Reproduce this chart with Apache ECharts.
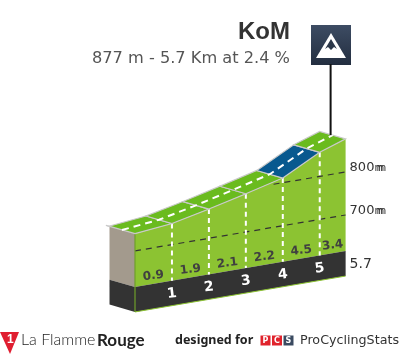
<!DOCTYPE html>
<html>
<head>
<meta charset="utf-8">
<style>html,body{margin:0;padding:0;background:#fff}#chart{width:405px;height:357px}</style>
<script src="https://cdn.jsdelivr.net/npm/echarts@6/dist/echarts.min.js"></script>
</head>
<body>
<div id="chart"></div>
<script>
// profile
var kmPoints = [0, 1, 2, 3, 4, 5, 5.7];
var altitudes = [740, 749, 768, 789, 811, 856, 877];
var gradients = ['0.9', '1.9', '2.1', '2.2', '4.5', '3.4'];
var roofColors = ['#6abb1e', '#6abb1e', '#6abb1e', '#6abb1e', '#08598f', '#6abb1e'];
var kmLabels = [1, 2, 3, 4, 5];
var altLines = [700, 800];
var altLineStart = [0, 3.75];
var altLabels = ['700', '800'];
var finishLabel = '5.7';

var kmMax = 5.7;
var tilt = 14.65;      // metres of climb per km that fakes the perspective
var baseAlt = 616;     // altitude of the top of the dark slab
var slabDrop = 58;     // slab height in metres
var roofDx = -26, roofDy = -7.5;

var chart = echarts.init(document.getElementById('chart'));

function altAt(km) {
    for (var i = 1; i < kmPoints.length; i++) {
        if (km <= kmPoints[i]) {
            var t = (km - kmPoints[i - 1]) / (kmPoints[i] - kmPoints[i - 1]);
            return altitudes[i - 1] + t * (altitudes[i] - altitudes[i - 1]);
        }
    }
    return altitudes[altitudes.length - 1];
}

function renderProfile(params, api) {
    function p(km, alt) { return api.coord([km, alt + km * tilt]); }
    function back(pt, f) { return [pt[0] + roofDx * f, pt[1] + roofDy * f]; }
    function poly(points, color, z) {
        return { type: 'polygon', z2: z || 1, shape: { points: points }, style: { fill: color } };
    }
    function line(a, b, color, width, dash, z) {
        return {
            type: 'line', z2: z || 2,
            shape: { x1: a[0], y1: a[1], x2: b[0], y2: b[1] },
            style: { stroke: color, lineWidth: width, lineDash: dash || null }
        };
    }
    function label(text, pos, font, color, rot, align) {
        return {
            type: 'text', z2: 6, x: pos[0], y: pos[1], rotation: rot || 0,
            style: { text: text, font: font, fill: color, align: align || 'center', verticalAlign: 'middle' }
        };
    }

    var kids = [];
    var n = kmPoints.length - 1;
    var rot = 0.12;

    // green front wall
    var wall = [];
    kmPoints.forEach(function (k, i) { wall.push(p(k, altitudes[i])); });
    wall.push(p(kmMax, baseAlt));
    wall.push(p(0, baseAlt));
    kids.push(poly(wall, '#8cc332'));

    // left side: rock and dark foot
    var a0 = p(0, altitudes[0]), b0 = p(0, baseAlt), c0 = p(0, baseAlt - slabDrop);
    var sideF = 0.98;
    kids.push(poly([a0, back(a0, sideF), back(b0, sideF), b0], '#a39a8d'));
    kids.push(poly([b0, back(b0, sideF), back(c0, sideF), c0], '#333333'));

    // dark slab
    kids.push(poly([p(0, baseAlt), p(kmMax, baseAlt), p(kmMax, baseAlt - slabDrop), p(0, baseAlt - slabDrop)], '#333333'));
    kids.push(line(p(0, baseAlt - slabDrop), p(kmMax, baseAlt - slabDrop), '#8cc332', 1, null, 3));
    kids.push(line(a0, c0, '#6f9f2a', 1.2, null, 3));

    // altitude lines, kept under the roof
    altLines.forEach(function (alt, i) {
        kids.push(line(p(altLineStart[i], alt), p(kmMax, alt), '#333333', 1.2, [6, 5], 2));
        var end = p(kmMax, alt);
        kids.push(label(altLabels[i], [end[0] + 4, end[1] - 4.5], '13px "DejaVu Sans"', '#333333', 0, 'left'));
        // the unit is printed twice, slightly shifted, in the original
        kids.push(label('m', [end[0] + 29, end[1] - 4], '10px "DejaVu Sans"', '#333333', 0, 'left'));
        kids.push(label('m', [end[0] + 31, end[1] - 4], '10px "DejaVu Sans"', '#333333', 0, 'left'));
    });

    // km lines
    kmLabels.forEach(function (k) {
        kids.push(line(p(k, altAt(k)), p(k, baseAlt), '#ffffff', 2, [5, 4], 3));
        var b = p(k, baseAlt);
        kids.push(label(String(k), [b[0], b[1] + 13], 'bold 14px "DejaVu Sans"', '#ffffff', rot));
    });

    // roof segments
    for (var i = 0; i < n; i++) {
        var f1 = p(kmPoints[i], altitudes[i]), f2 = p(kmPoints[i + 1], altitudes[i + 1]);
        kids.push({
            type: 'polygon', z2: 4,
            shape: { points: [f1, f2, back(f2, 1), back(f1, 1)] },
            style: { fill: roofColors[i], stroke: '#c9c9c9', lineWidth: 1.2 }
        });
        var m = p((kmPoints[i] + kmPoints[i + 1]) / 2, baseAlt);
        kids.push(label(gradients[i], [m[0], m[1] - 8], 'bold 12px "DejaVu Sans"', '#404040', rot));
    }
    kids.push(line(back(a0, 1), back(a0, 1.12), '#c9c9c9', 1.2, null, 4));

    // centre line of the road
    var road = [];
    kmPoints.forEach(function (k, i) { road.push(back(p(k, altitudes[i]), 0.5)); });
    kids.push({
        type: 'polyline', z2: 5, shape: { points: road },
        style: { stroke: '#ffffff', lineWidth: 2, lineDash: [7, 5], fill: null }
    });

    // KoM pole
    var top = back(p(kmMax, altitudes[n]), 0.5);
    kids.push(line([top[0] - 2, top[1]], [top[0] - 2, 64], '#111111', 2, null, 6));

    // finish distance
    var f = p(kmMax, baseAlt);
    kids.push(label(finishLabel, [f[0] + 4, f[1] + 13], '14px "DejaVu Sans"', '#333333', 0, 'left'));

    return { type: 'group', children: kids };
}

var option = {
    animation: false,
    backgroundColor: '#fff',
    grid: { left: 135, width: 210.6, top: 121.9, height: 215 },
    xAxis: { type: 'value', min: 0, max: kmMax, show: false },
    yAxis: { type: 'value', min: 500, max: 1000, show: false },
    series: [{
        type: 'custom',
        clip: false,
        silent: true,
        data: [[0, 0]],
        renderItem: renderProfile
    }],
    graphic: [
        { type: 'text', right: 115, top: 20, style: { text: 'KoM', font: 'bold 24px "Liberation Sans"', fill: '#333333' } },
        { type: 'text', right: 115, top: 51, style: { text: '877 m - 5.7 Km at 2.4 %', font: '16.2px "DejaVu Sans"', fill: '#555555' } },
        // mountain badge
        { type: 'rect', shape: { x: 311, y: 25, width: 40, height: 40 }, style: { fill: new echarts.graphic.LinearGradient(0, 0, 0, 1, [{ offset: 0, color: '#3d4c63' }, { offset: 1, color: '#232e40' }]) } },
        { type: 'polygon', shape: { points: [[331, 33], [346, 58], [316, 58]] }, style: { fill: '#ffffff' } },
        { type: 'polygon', shape: { points: [[331, 39], [337, 49], [334, 47], [331, 50], [328, 47], [325, 49]] }, style: { fill: '#2b3749' } },
        // footer
        { type: 'polygon', shape: { points: [[0, 332], [19, 332], [10, 354]] }, style: { fill: '#e01e30' } },
        { type: 'text', x: 7, y: 334, style: { text: '1', font: 'bold 12px "Liberation Sans"', fill: '#ffffff' } },
        { type: 'text', x: 21, y: 332, style: { text: 'La Flamme', font: '300 16px "Lato"', fill: '#222222' } },
        { type: 'text', x: 97, y: 332, style: { text: 'Rouge', font: 'bold 17px "Lato"', fill: '#222222' } },
        { type: 'text', x: 175, y: 334, style: { text: 'designed for', font: 'bold 12.5px "Noto Sans"', fill: '#222222' } },
        { type: 'rect', shape: { x: 260.5, y: 335.5, width: 10, height: 10 }, style: { fill: '#e0232c' } },
        { type: 'rect', shape: { x: 272, y: 335.5, width: 10, height: 10 }, style: { fill: '#e0232c' } },
        { type: 'rect', shape: { x: 283.5, y: 335.5, width: 10, height: 10 }, style: { fill: '#3a4a60' } },
        { type: 'text', x: 265.5, y: 340.5, style: { text: 'P', font: 'bold 8px "DejaVu Sans"', fill: '#fff', align: 'center', verticalAlign: 'middle' } },
        { type: 'text', x: 277, y: 340.5, style: { text: 'C', font: 'bold 8px "DejaVu Sans"', fill: '#fff', align: 'center', verticalAlign: 'middle' } },
        { type: 'text', x: 288.5, y: 340.5, style: { text: 'S', font: 'bold 8px "DejaVu Sans"', fill: '#fff', align: 'center', verticalAlign: 'middle' } },
        { type: 'text', x: 300, y: 334, style: { text: 'ProCyclingStats', font: '12.7px "DejaVu Sans"', fill: '#333333' } }
    ]
};

chart.setOption(option);
</script>
</body>
</html>
